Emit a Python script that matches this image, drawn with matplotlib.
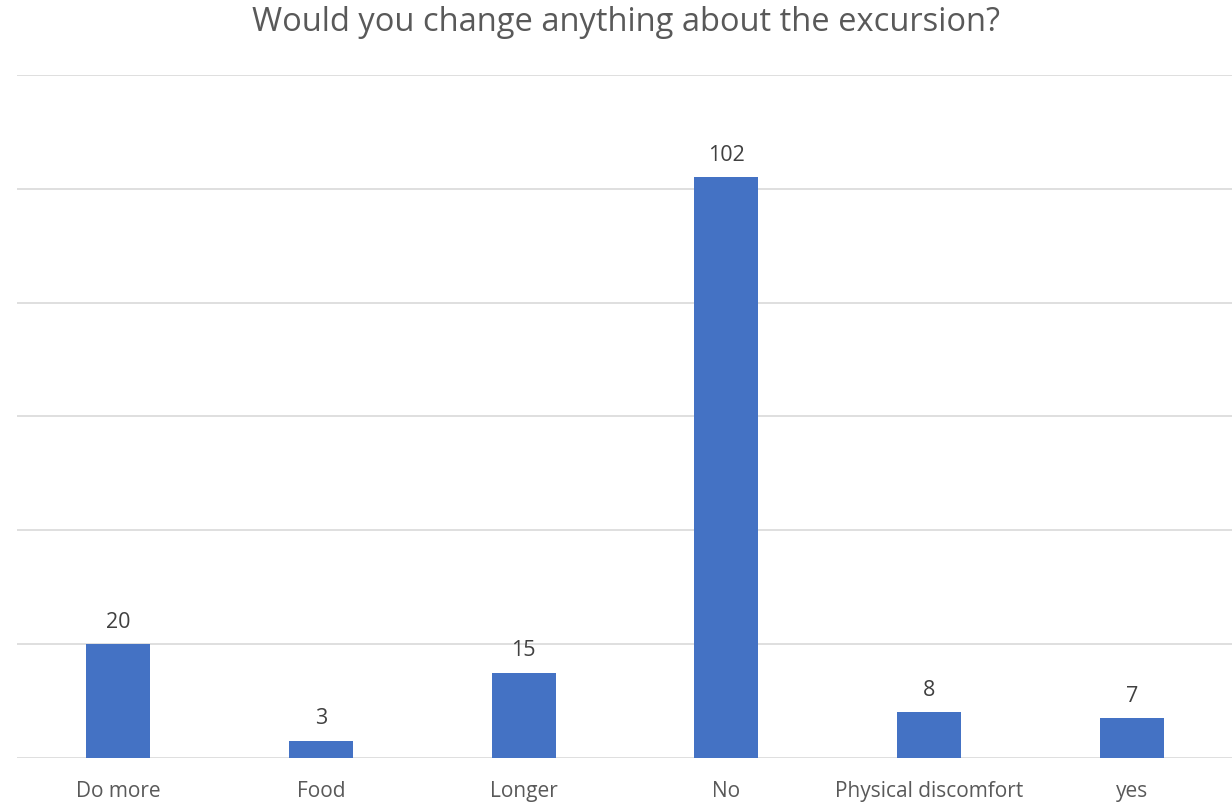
import matplotlib.pyplot as plt

categories = ["Do more", "Food", "Longer", "No", "Physical discomfort", "yes"]
counts = [20, 3, 15, 102, 8, 7]

plt.rcParams['font.family'] = ['Open Sans', 'DejaVu Sans']

fig = plt.figure(figsize=(12.32, 8.03), dpi=100)
ax = fig.add_axes([0.0134, 0.0548, 0.9878, 0.8506])

x = range(len(categories))
bars = ax.bar(x, counts, width=0.315, color="#4472C4", zorder=3)

ax.set_ylim(0, 120)
ax.set_xlim(-0.5, len(categories) - 0.5)
ax.set_yticks(range(0, 121, 20))
ax.yaxis.grid(True, color="#D9D9D9", linewidth=1.2, zorder=0)
ax.tick_params(axis="y", left=False, labelleft=False)
ax.tick_params(axis="x", bottom=False, pad=12, labelsize=15, labelcolor="#595959")
ax.set_xticks(list(x))
ax.set_xticklabels(categories)
for s in ax.spines.values():
    s.set_visible(False)

for b, v in zip(bars, counts):
    ax.annotate(str(v), (b.get_x() + b.get_width() / 2, v), xytext=(0, 9),
                textcoords="offset points", ha="center", va="bottom",
                fontsize=15.5, color="#404040")

fig.text(0.508, 0.972, "Would you change anything about the excursion?",
         ha="center", va="center", fontsize=23.5, color="#595959")

fig.savefig("out.png", dpi=100)
